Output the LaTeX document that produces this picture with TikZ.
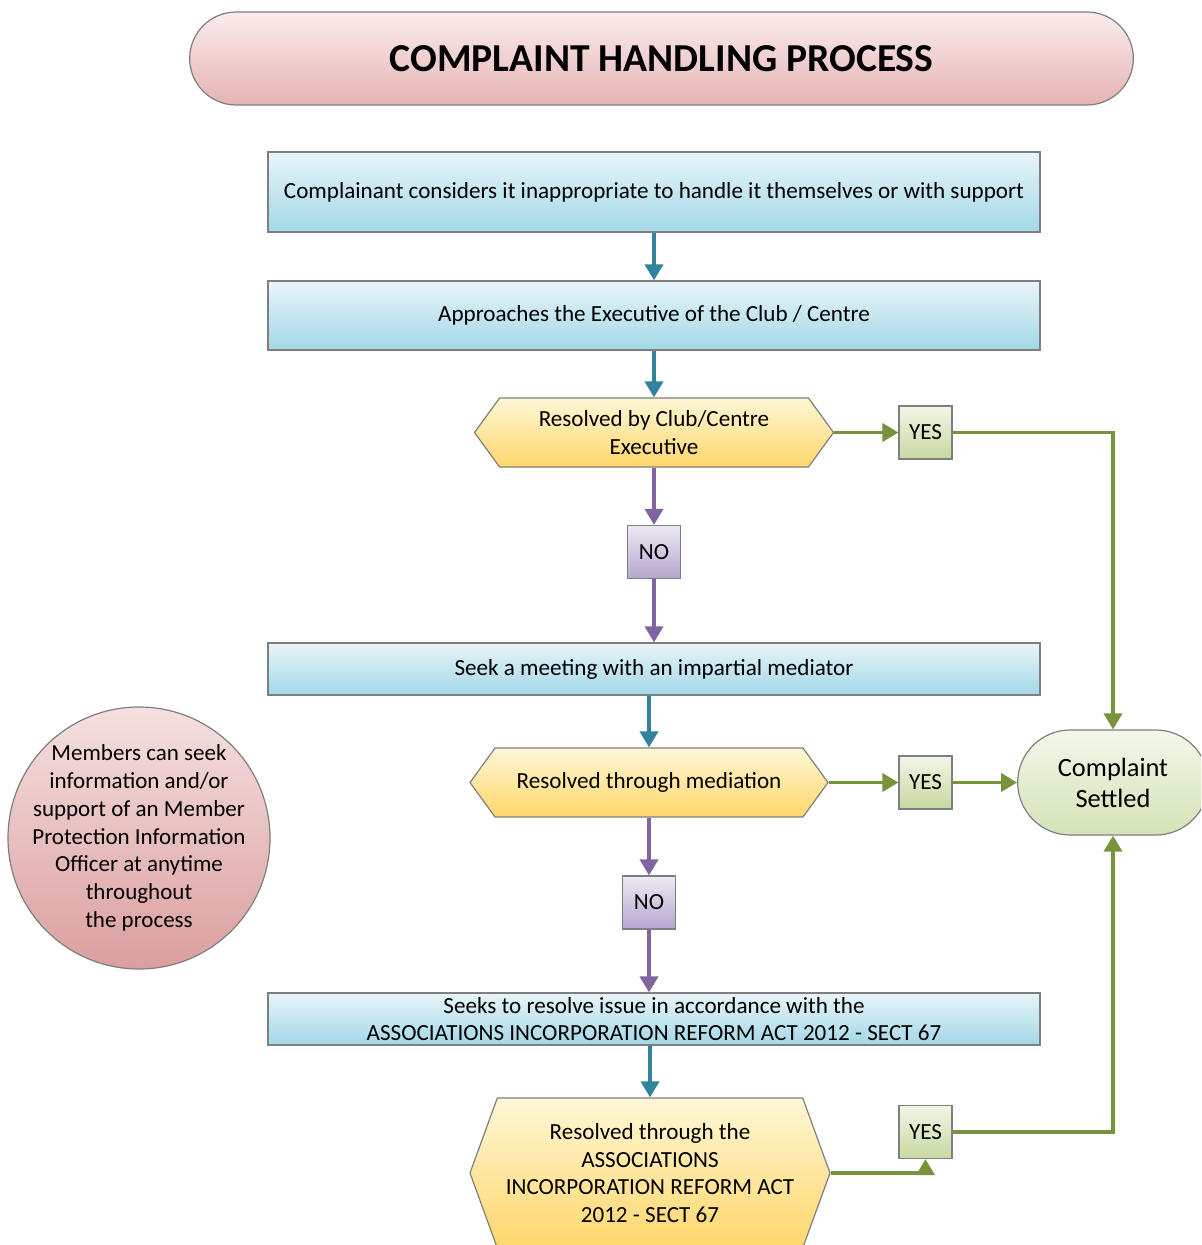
\documentclass[tikz,border=0pt]{standalone}
\usepackage{fontspec}
\setmainfont{Carlito}
\usetikzlibrary{arrows.meta,shapes.symbols,shapes.misc}
\definecolor{tealc}{HTML}{31849B}
\definecolor{purpc}{HTML}{8064A2}
\definecolor{grnc}{HTML}{77933C}
\definecolor{bluetop}{HTML}{E8F5F9}
\definecolor{bluebot}{HTML}{A3D8E8}
\definecolor{yeltop}{HTML}{FFF7D6}
\definecolor{yelbot}{HTML}{FFD76B}
\definecolor{gbtop}{HTML}{F1F6E6}
\definecolor{gbbot}{HTML}{C6D9A0}
\definecolor{pbtop}{HTML}{EEEAF4}
\definecolor{pbbot}{HTML}{B5A6CE}
\definecolor{cstop}{HTML}{F3F7EA}
\definecolor{csbot}{HTML}{D3E3B6}
\definecolor{pktop}{HTML}{FBEDED}
\definecolor{pkbot}{HTML}{E6B3B3}
\definecolor{cirtop}{HTML}{F5E0E0}
\definecolor{cirbot}{HTML}{DB9E9E}
\definecolor{edgec}{HTML}{7F7F7F}
\begin{document}
\begin{tikzpicture}[x=0.5pt,y=-0.5pt,
  every node/.style={font=\fontsize{11.55}{13.9}\selectfont, text=black},
  procbox/.style={rectangle, draw=edgec, line width=0.6pt, top color=bluetop, bottom color=bluebot, minimum width=386pt, inner sep=0pt, align=center},
  hexbox/.style={signal, signal to=west and east, draw=edgec, line width=0.6pt, top color=yeltop, bottom color=yelbot, inner sep=0pt, align=center},
  yesbox/.style={rectangle, draw=edgec, line width=0.6pt, top color=gbtop, bottom color=gbbot, minimum size=26.5pt, inner sep=0pt},
  nobox/.style={rectangle, draw=edgec, line width=0.6pt, top color=pbtop, bottom color=pbbot, minimum size=26.5pt, inner sep=0pt},
  conn/.style={line width=1.85pt, -{Triangle[length=8pt,width=9pt]}},
  tconn/.style={conn, draw=tealc},
  pconn/.style={conn, draw=purpc},
  gconn/.style={conn, draw=grnc},
]
\useasboundingbox (0,0) rectangle (1201,1245);
\fill[white] (0,0) rectangle (1201,1245);
\begin{scope}
\clip (0,0) rectangle (1201,1245);
% title
\node[rounded rectangle, draw=edgec, line width=0.6pt, top color=pktop, bottom color=pkbot,
  minimum width=478.5pt, minimum height=46.5pt, font=\fontsize{19.8}{23}\selectfont\bfseries] (title) at (661.5,58.5) {COMPLAINT HANDLING PROCESS};
% process boxes
\node[procbox, minimum height=40pt] (b1) at (654,192) {Complainant considers it inappropriate to handle it themselves or with support};
\node[procbox, minimum height=34.5pt] (b2) at (654,315.5) {Approaches the Executive of the Club / Centre};
\node[procbox, minimum height=26pt] (b3) at (654,669) {Seek a meeting with an impartial mediator};
\node[procbox, minimum height=26pt] (b4) at (654,1019) {Seeks to resolve issue in accordance with the\\ASSOCIATIONS INCORPORATION REFORM ACT 2012 - SECT 67};
% decisions
\node[hexbox, signal pointer angle=108, minimum width=179.5pt, minimum height=34.5pt] (h1) at (654,432.5) {Resolved by Club/Centre\\Executive};
\node[hexbox, signal pointer angle=108, minimum width=179pt, minimum height=34.5pt] (h2) at (649,782.5) {Resolved through mediation};
\node[hexbox, signal pointer angle=140, minimum width=180pt, minimum height=75pt] (h3) at (650,1173) {Resolved through the\\ASSOCIATIONS\\INCORPORATION REFORM ACT\\2012 - SECT 67};
% yes / no
\node[yesbox] (y1) at (925.5,432.5) {YES};
\node[yesbox] (y2) at (925.5,782.5) {YES};
\node[yesbox] (y3) at (925.5,1132) {YES};
\node[nobox] (n1) at (654,552) {NO};
\node[nobox] (n2) at (649,902.5) {NO};
% settled
\node[rounded rectangle, draw=edgec, line width=0.6pt, top color=cstop, bottom color=csbot,
  minimum width=102pt, minimum height=52.5pt, align=center, font=\fontsize{13.2}{15.5}\selectfont] (cs) at (1113,782.5) {Complaint\\Settled};
% info circle
\node[circle, draw=edgec, line width=0.6pt, top color=cirtop, bottom color=cirbot,
  minimum size=131pt, inner sep=0pt] (mpio) at (139,838) {};
\node[align=center, inner sep=0pt, font=\fontsize{11.5}{13.9}\selectfont] (mpiotext) at (mpio.center)
  {Members can seek\\information and/or\\support of an Member\\Protection Information\\Officer at anytime\\throughout\\the process};
% connectors
\draw[tconn] (b1.south) -- (b2.north);
\draw[tconn] (h1.north |- b2.south) -- (h1.north);
\draw[tconn] (h2.north |- b3.south) -- (h2.north);
\draw[tconn] (h3.north |- b4.south) -- (h3.north);
\draw[pconn] (h1.south) -- (n1.north);
\draw[pconn] (n1.south) -- (n1.south |- b3.north);
\draw[pconn] (h2.south) -- (n2.north);
\draw[pconn] (n2.south) -- (n2.south |- b4.north);
\draw[gconn] (h1.east) -- (y1.west);
\draw[gconn] (y1.east) -| (cs.north);
\draw[gconn] (h2.east) -- (y2.west);
\draw[gconn] (y2.east) -- (cs.west);
\draw[gconn] (h3.east) -| (y3.south);
\draw[gconn] (y3.east) -| (cs.south);
\end{scope}
\end{tikzpicture}
\end{document}
